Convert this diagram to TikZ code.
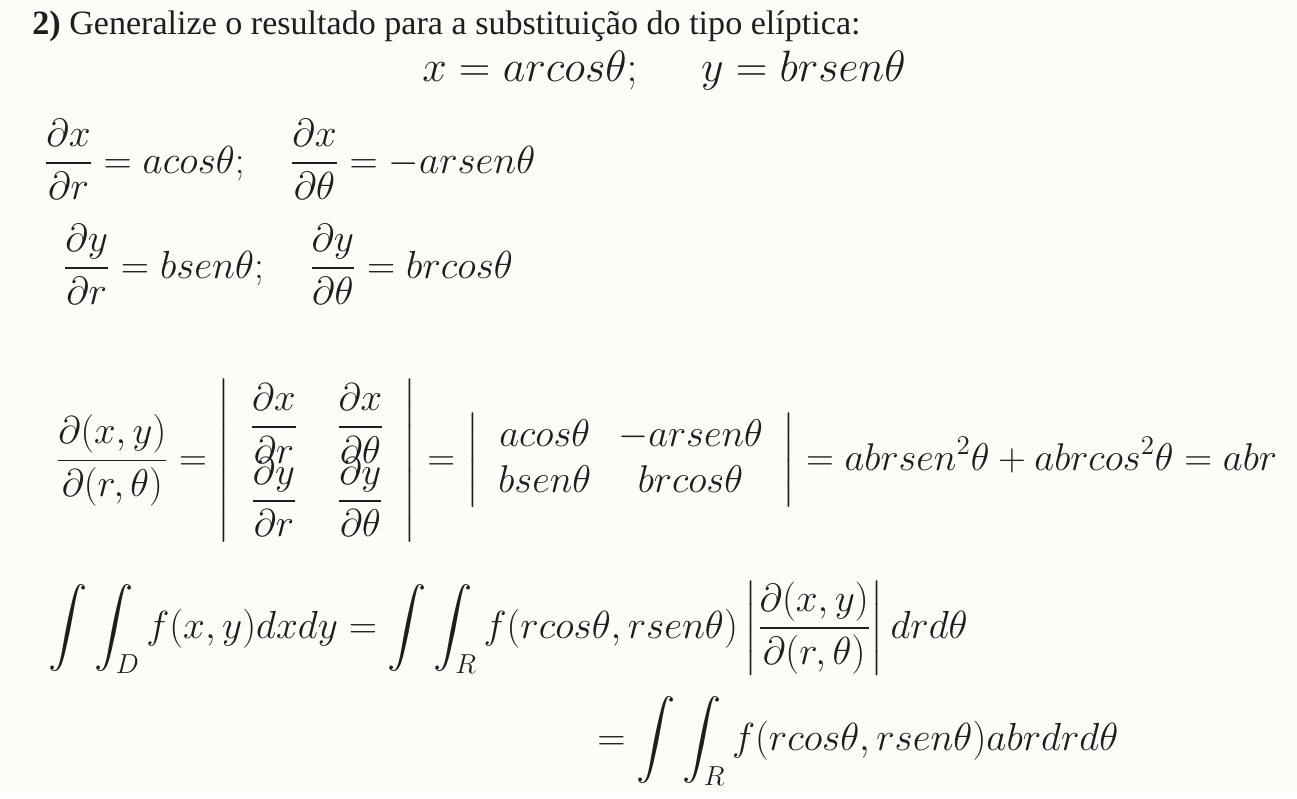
\RequirePackage{fix-cm}
\documentclass[tikz,border=0pt]{standalone}
\usepackage{amsmath}
\usepackage{amssymb}
\usepackage[no-math]{fontspec}
\newfontfamily\titlefont{Liberation Serif}
\definecolor{paper}{RGB}{252,252,249}
\definecolor{ink}{RGB}{30,30,30}

\begin{document}
\begin{tikzpicture}[x=0.02cm, y=-0.02cm,
    eq/.style={anchor=base west, inner sep=0pt, text=ink, font=\fontsize{22.3}{26}\selectfont}]
    \fill[paper] (0, 0) rectangle (1297, 798);
    \useasboundingbox (0, 0) rectangle (1297, 798);
    \node[anchor=base west, inner sep=0pt, text=ink, font=\titlefont\fontsize{19.4}{23}\selectfont] (title) at (32, 34) {\textbf{2)} Generalize o resultado para a substituição do tipo elíptica:};
    \node[eq, font=\fontsize{25}{30}\selectfont] (subst) at (422, 81) {$x = arcos\theta; \quad\; y = brsen\theta$};
    % derivadas parciais
    \node[eq] (dx) at (44, 173) {$\displaystyle \frac{\partial x}{\partial r} = acos\theta; \quad \frac{\partial x}{\partial \theta} = -arsen\theta$};
    \node[eq] (dy) at (63, 278) {$\displaystyle \frac{\partial y}{\partial r} = bsen\theta; \quad \frac{\partial y}{\partial \theta} = brcos\theta$};
    % jacobiano
    \node[eq, font=\fontsize{22}{26}\selectfont] (jac) at (56, 470) {$\displaystyle \frac{\partial(x,y)}{\partial(r,\theta)} = \left| \; \begin{array}{c@{\quad}c} \dfrac{\partial x}{\partial r} & \dfrac{\partial x}{\partial \theta} \\[-0.15em] \dfrac{\partial y}{\partial r} & \dfrac{\partial y}{\partial \theta} \end{array} \; \right| = \left| \; \begin{array}{c@{\hspace{0.7em}}c} acos\theta & -arsen\theta \\ bsen\theta & brcos\theta \end{array} \; \right| = abrsen^2\theta + abrcos^2\theta = abr$};
    % integrais
    \node[eq] (int) at (48, 638) {$\displaystyle \int\int_D f(x,y)dxdy = \int\int_R f(rcos\theta, rsen\theta) \left| \frac{\partial(x,y)}{\partial(r,\theta)} \right| drd\theta$};
    \node[eq] (res) at (597, 750) {$\displaystyle = \int\int_R f(rcos\theta, rsen\theta)abrdrd\theta$};
\end{tikzpicture}
\end{document}
